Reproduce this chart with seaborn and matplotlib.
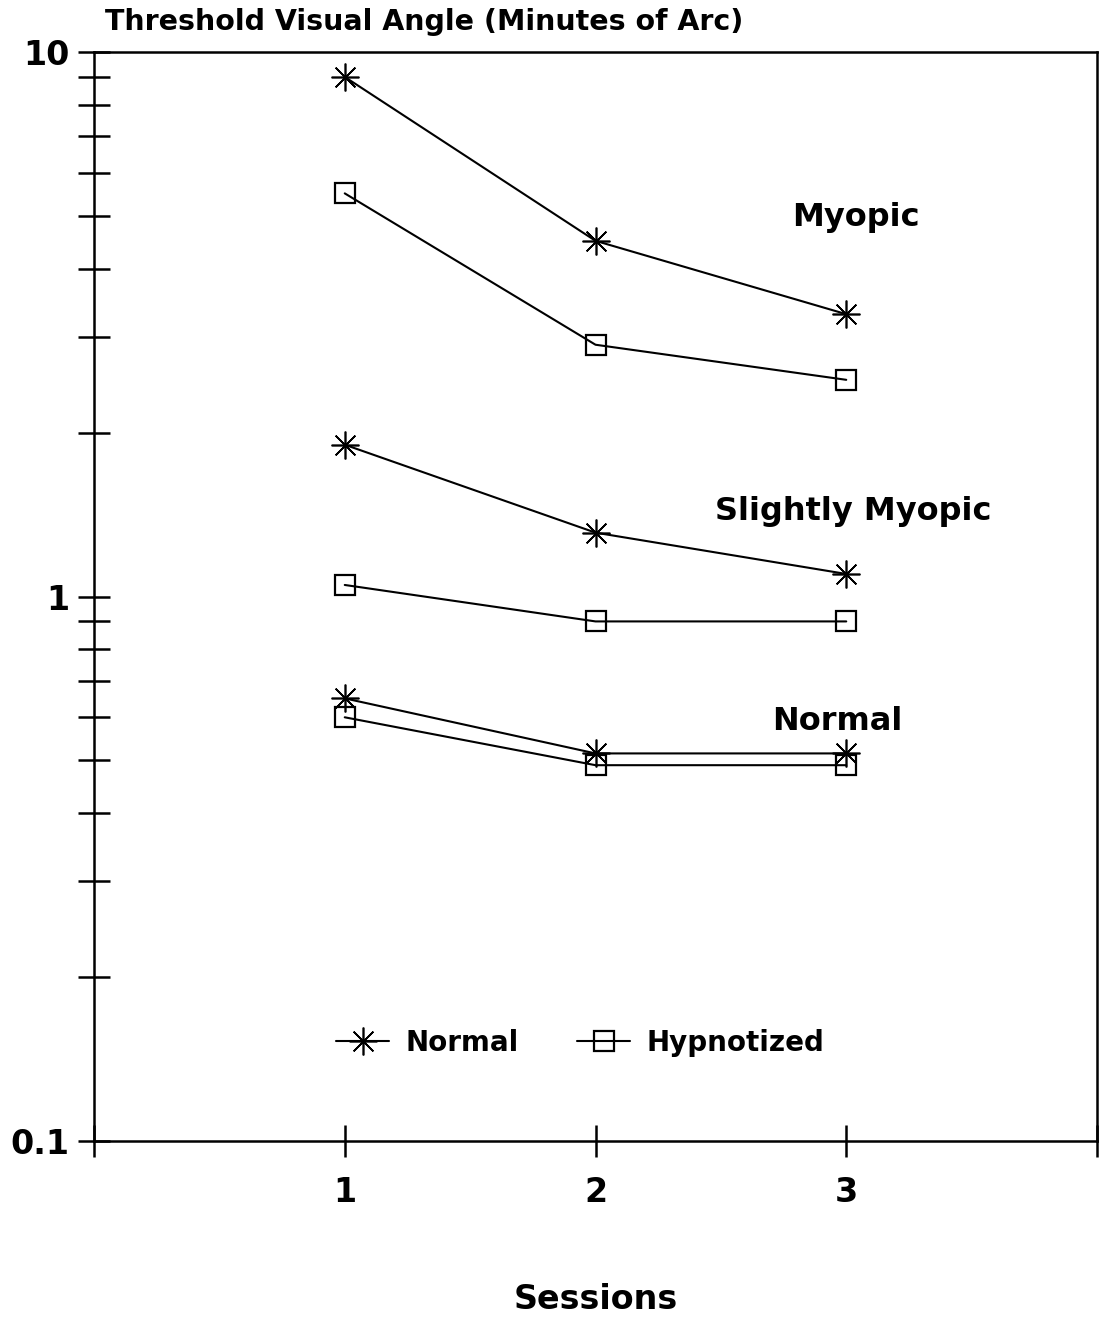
import matplotlib
matplotlib.use("Agg")
import matplotlib.pyplot as plt
import seaborn as sns
import numpy as np
import pandas as pd
from matplotlib.lines import Line2D
from matplotlib.ticker import LogLocator, NullFormatter, FixedLocator

# ---- data ----
sessions = [1, 2, 3]
myopic_normal = [9.0, 4.5, 3.3]
myopic_hypnotized = [5.5, 2.9, 2.5]
slight_normal = [1.9, 1.31, 1.1]
slight_hypnotized = [1.05, 0.9, 0.9]
normal_normal = [0.65, 0.515, 0.515]
normal_hypnotized = [0.6, 0.49, 0.49]

group_labels = ["Myopic", "Slightly Myopic", "Normal"]
condition_labels = ["Normal", "Hypnotized"]
x_tick_labels = ["", "1", "2", "3", ""]
y_tick_labels = ["0.1", "1", "10"]

sns.set_theme(style="white")
plt.rcParams['font.family'] = ['DejaVu Sans']
plt.rcParams['font.weight'] = 'bold'
plt.rcParams['text.color'] = 'black'
plt.rcParams['axes.labelcolor'] = 'black'
plt.rcParams['xtick.color'] = 'black'
plt.rcParams['ytick.color'] = 'black'

fig = plt.figure(figsize=(11.04, 13.19), dpi=100)
ax = fig.add_axes([94/1104, 1 - 1141/1319, (1097-94)/1104, (1141-52)/1319])

ast = (8, 2, 0)
series = [
    (myopic_normal, ast), (myopic_hypnotized, 's'),
    (slight_normal, ast), (slight_hypnotized, 's'),
    (normal_normal, ast), (normal_hypnotized, 's'),
]
for vals, mk in series:
    df = pd.DataFrame({"Session": sessions, "Threshold": vals})
    if mk == 's':
        sns.lineplot(data=df, x="Session", y="Threshold", ax=ax, color="black",
                     linewidth=1.5, marker='s', markersize=15, markerfacecolor='none',
                     markeredgecolor='black', markeredgewidth=1.6)
    else:
        sns.lineplot(data=df, x="Session", y="Threshold", ax=ax, color="black",
                     linewidth=1.5, marker=ast, markersize=20, markeredgecolor='black',
                     markeredgewidth=1.2)

ax.set_yscale('log')
ax.set_ylim(0.1, 10)
ax.set_xlim(0, 4)

ax.xaxis.set_major_locator(FixedLocator([0, 1, 2, 3, 4]))
ax.set_xticklabels(x_tick_labels)
ax.yaxis.set_major_locator(FixedLocator([0.1, 1, 10]))
ax.set_yticklabels(y_tick_labels)
ax.yaxis.set_minor_locator(LogLocator(base=10, subs=np.arange(2, 10)))
ax.yaxis.set_minor_formatter(NullFormatter())

ax.tick_params(axis='both', which='both', direction='inout', length=23, width=1.8,
               color='black', left=True, bottom=True, top=False, right=False)
ax.tick_params(axis='y', which='major', labelsize=24, pad=6, labelcolor='black')
ax.tick_params(axis='x', which='major', labelsize=24, pad=14, labelcolor='black')
for lab in ax.get_xticklabels() + ax.get_yticklabels():
    lab.set_fontweight('bold')

for sp in ax.spines.values():
    sp.set_visible(True)
    sp.set_color('black')
    sp.set_linewidth(1.8)

ax.set_xlabel("Sessions", fontsize=24, fontweight='bold', labelpad=53, color='black')
ax.set_ylabel("")

fig.text(105/1104, 1 - 30/1319, "Threshold Visual Angle (Minutes of Arc)",
         fontsize=20.5, fontweight='bold', ha='left', va='baseline', color='black')

ax.text(0.76, 0.8476, group_labels[0], transform=ax.transAxes, fontsize=23,
        fontweight='bold', ha='center', va='center', color='black')
ax.text(0.757, 0.5785, group_labels[1], transform=ax.transAxes, fontsize=23,
        fontweight='bold', ha='center', va='center', color='black')
ax.text(0.741, 0.385, group_labels[2], transform=ax.transAxes, fontsize=23,
        fontweight='bold', ha='center', va='center', color='black')

handles = [
    Line2D([], [], color='black', linewidth=1.5, marker=ast, markersize=20,
           markeredgewidth=1.2),
    Line2D([], [], color='black', linewidth=1.5, marker='s', markersize=15,
           markerfacecolor='none', markeredgewidth=1.6),
]
leg = ax.legend(handles, condition_labels, loc='center', bbox_to_anchor=(0.485, 0.09),
                ncol=2, frameon=False, handlelength=1.9, columnspacing=2.1,
                handletextpad=0.6, prop={'size': 20, 'weight': 'bold'})
for t in leg.get_texts():
    t.set_color('black')

fig.savefig("out.png", dpi=100, facecolor='white')
